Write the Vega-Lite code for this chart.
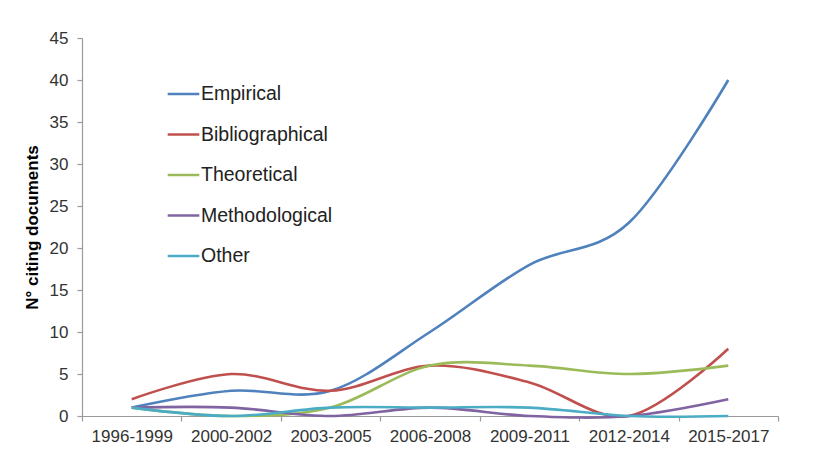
{
  "$schema": "https://vega.github.io/schema/vega-lite/v6.json",
  "autosize": "none",
  "width": 696,
  "height": 378,
  "padding": {"left": 82, "top": 38, "right": 37, "bottom": 50},
  "background": "white",
  "config": {
    "view": {"stroke": null},
    "font": "Liberation Sans",
    "axis": {
      "grid": false,
      "domainColor": "#9a9a9a",
      "tickColor": "#9a9a9a",
      "domainWidth": 1.2,
      "tickWidth": 1.2,
      "labelColor": "#333333",
      "labelFont": "Liberation Sans",
      "labelFontSize": 17,
      "titleFont": "Liberation Sans"
    }
  },
  "data": {
    "values": [
      {"period": "1996-1999", "type": "Empirical", "n": 1},
      {"period": "2000-2002", "type": "Empirical", "n": 3},
      {"period": "2003-2005", "type": "Empirical", "n": 3},
      {"period": "2006-2008", "type": "Empirical", "n": 10},
      {"period": "2009-2011", "type": "Empirical", "n": 18},
      {"period": "2012-2014", "type": "Empirical", "n": 23},
      {"period": "2015-2017", "type": "Empirical", "n": 40},
      {"period": "1996-1999", "type": "Bibliographical", "n": 2},
      {"period": "2000-2002", "type": "Bibliographical", "n": 5},
      {"period": "2003-2005", "type": "Bibliographical", "n": 3},
      {"period": "2006-2008", "type": "Bibliographical", "n": 6},
      {"period": "2009-2011", "type": "Bibliographical", "n": 4},
      {"period": "2012-2014", "type": "Bibliographical", "n": 0},
      {"period": "2015-2017", "type": "Bibliographical", "n": 8},
      {"period": "1996-1999", "type": "Theoretical", "n": 1},
      {"period": "2000-2002", "type": "Theoretical", "n": 0},
      {"period": "2003-2005", "type": "Theoretical", "n": 1},
      {"period": "2006-2008", "type": "Theoretical", "n": 6},
      {"period": "2009-2011", "type": "Theoretical", "n": 6},
      {"period": "2012-2014", "type": "Theoretical", "n": 5},
      {"period": "2015-2017", "type": "Theoretical", "n": 6},
      {"period": "1996-1999", "type": "Methodological", "n": 1},
      {"period": "2000-2002", "type": "Methodological", "n": 1},
      {"period": "2003-2005", "type": "Methodological", "n": 0},
      {"period": "2006-2008", "type": "Methodological", "n": 1},
      {"period": "2009-2011", "type": "Methodological", "n": 0},
      {"period": "2012-2014", "type": "Methodological", "n": 0},
      {"period": "2015-2017", "type": "Methodological", "n": 2},
      {"period": "1996-1999", "type": "Other", "n": 1},
      {"period": "2000-2002", "type": "Other", "n": 0},
      {"period": "2003-2005", "type": "Other", "n": 1},
      {"period": "2006-2008", "type": "Other", "n": 1},
      {"period": "2009-2011", "type": "Other", "n": 1},
      {"period": "2012-2014", "type": "Other", "n": 0},
      {"period": "2015-2017", "type": "Other", "n": 0}
    ]
  },
  "mark": {"type": "line", "interpolate": "cardinal", "tension": 0, "strokeWidth": 2.6},
  "encoding": {
    "x": {
      "field": "period",
      "type": "ordinal",
      "scale": {"type": "band", "paddingInner": 0, "paddingOuter": 0},
      "axis": {
        "title": null,
        "labelAngle": 0,
        "tickBand": "extent",
        "tickSize": 5,
        "labelPadding": 7
      }
    },
    "y": {
      "field": "n",
      "type": "quantitative",
      "scale": {"domain": [0, 45], "nice": false},
      "axis": {
        "title": "N° citing documents",
        "titleFontSize": 17,
        "titleFontWeight": "bold",
        "titleColor": "#000000",
        "titlePadding": 8,
        "values": [0, 5, 10, 15, 20, 25, 30, 35, 40, 45],
        "tickSize": 5,
        "labelPadding": 9
      }
    },
    "color": {
      "field": "type",
      "type": "nominal",
      "sort": ["Empirical", "Bibliographical", "Theoretical", "Methodological", "Other"],
      "scale": {
        "domain": ["Empirical", "Bibliographical", "Theoretical", "Methodological", "Other"],
        "range": ["#4F81BD", "#C0504D", "#9BBB59", "#8064A2", "#4BACC6"]
      },
      "legend": {
        "orient": "none",
        "legendX": 84,
        "legendY": 38.5,
        "title": null,
        "symbolType": "stroke",
        "symbolSize": 1000,
        "symbolStrokeWidth": 2.6,
        "labelFontSize": 19.5,
        "labelColor": "#222222",
        "labelOffset": 0,
        "rowPadding": 13.5
      }
    }
  }
}
